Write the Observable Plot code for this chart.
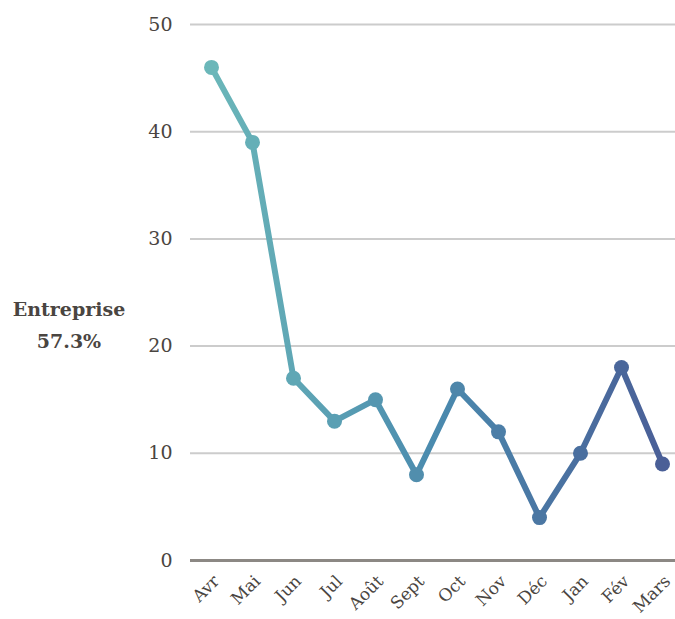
<!DOCTYPE html>
<html>
<head>
<meta charset="utf-8">
<script src="https://cdn.jsdelivr.net/npm/d3@7"></script>
<script src="https://cdn.jsdelivr.net/npm/@observablehq/plot@0.6"></script>
<style>
  html, body { margin: 0; padding: 0; background: #fff; }
  #wrap { position: relative; width: 675px; height: 619px; }
  #label { position: absolute; left: 0; width: 138px; top: 293px; text-align: center;
           font-family: "DejaVu Serif", serif; font-weight: bold; font-size: 19px; line-height: 32px; color: #4a4541; }
</style>
</head>
<body>
<div id="wrap"><div id="label"></div></div>
<script>
const months = ["Avr","Mai","Jun","Jul","Août","Sept","Oct","Nov","Déc","Jan","Fév","Mars"];
const values = [46, 39, 17, 13, 15, 8, 16, 12, 4, 10, 18, 9];
const yTicks = [0, 10, 20, 30, 40, 50];
const seriesLabel = "Entreprise";
const seriesShare = "57.3%";
const palette = ["#6bb7b9", "#4a8aae", "#4a5f97"];

document.getElementById("label").innerHTML = seriesLabel + "<br>" + seriesShare;

const data = months.map((m, i) => ({month: m, value: values[i], idx: i}));
const interp = d3.interpolateRgbBasis(palette);

const xRange = [210, 662];
const gradientDefs = () => {
  const ns = "http://www.w3.org/2000/svg";
  const defs = document.createElementNS(ns, "defs");
  const g = document.createElementNS(ns, "linearGradient");
  g.setAttribute("id", "lineGrad");
  g.setAttribute("gradientUnits", "userSpaceOnUse");
  g.setAttribute("x1", xRange[0]); g.setAttribute("x2", xRange[1]);
  g.setAttribute("y1", 0); g.setAttribute("y2", 0);
  palette.forEach((c, i) => {
    const s = document.createElementNS(ns, "stop");
    s.setAttribute("offset", (i / (palette.length - 1) * 100) + "%");
    s.setAttribute("stop-color", c);
    g.appendChild(s);
  });
  defs.appendChild(g);
  return defs;
};

const chart = Plot.plot({
  width: 675,
  height: 619,
  marginLeft: 190,
  marginRight: 0,
  marginTop: 24,
  marginBottom: 59,
  style: {fontFamily: "DejaVu Serif, serif", fontSize: "17px", color: "#4a4541", background: "#fff"},
  x: {type: "point", domain: months, range: xRange, padding: 0, label: null},
  y: {domain: [0, 50], range: [560, 24], label: null},
  marks: [
    gradientDefs,
    Plot.ruleY(yTicks.filter(t => t > 0), {stroke: "#cccccc", strokeWidth: 2, strokeOpacity: 1}),
    Plot.ruleY([0], {stroke: "#8c8884", strokeWidth: 3, strokeOpacity: 1}),
    Plot.axisY({ticks: yTicks, tickSize: 0, tickPadding: 18, fontSize: 19, fill: "#4a4541"}),
    Plot.axisX({tickSize: 0, tickRotate: -45, tickPadding: 18, dx: 5, fontSize: 17, fill: "#4a4541"}),
    Plot.line(data, {x: "month", y: "value", stroke: "url(#lineGrad)", strokeWidth: 6, strokeLinejoin: "round", strokeLinecap: "round"}),
    Plot.dot(data, {x: "month", y: "value", r: 7.5, fill: d => interp(d.idx / (months.length - 1)), stroke: "none"})
  ]
});
document.getElementById("wrap").insertBefore(chart, document.getElementById("label"));
chart.style.position = "absolute";
chart.style.left = "0";
chart.style.top = "0";
</script>
</body>
</html>
